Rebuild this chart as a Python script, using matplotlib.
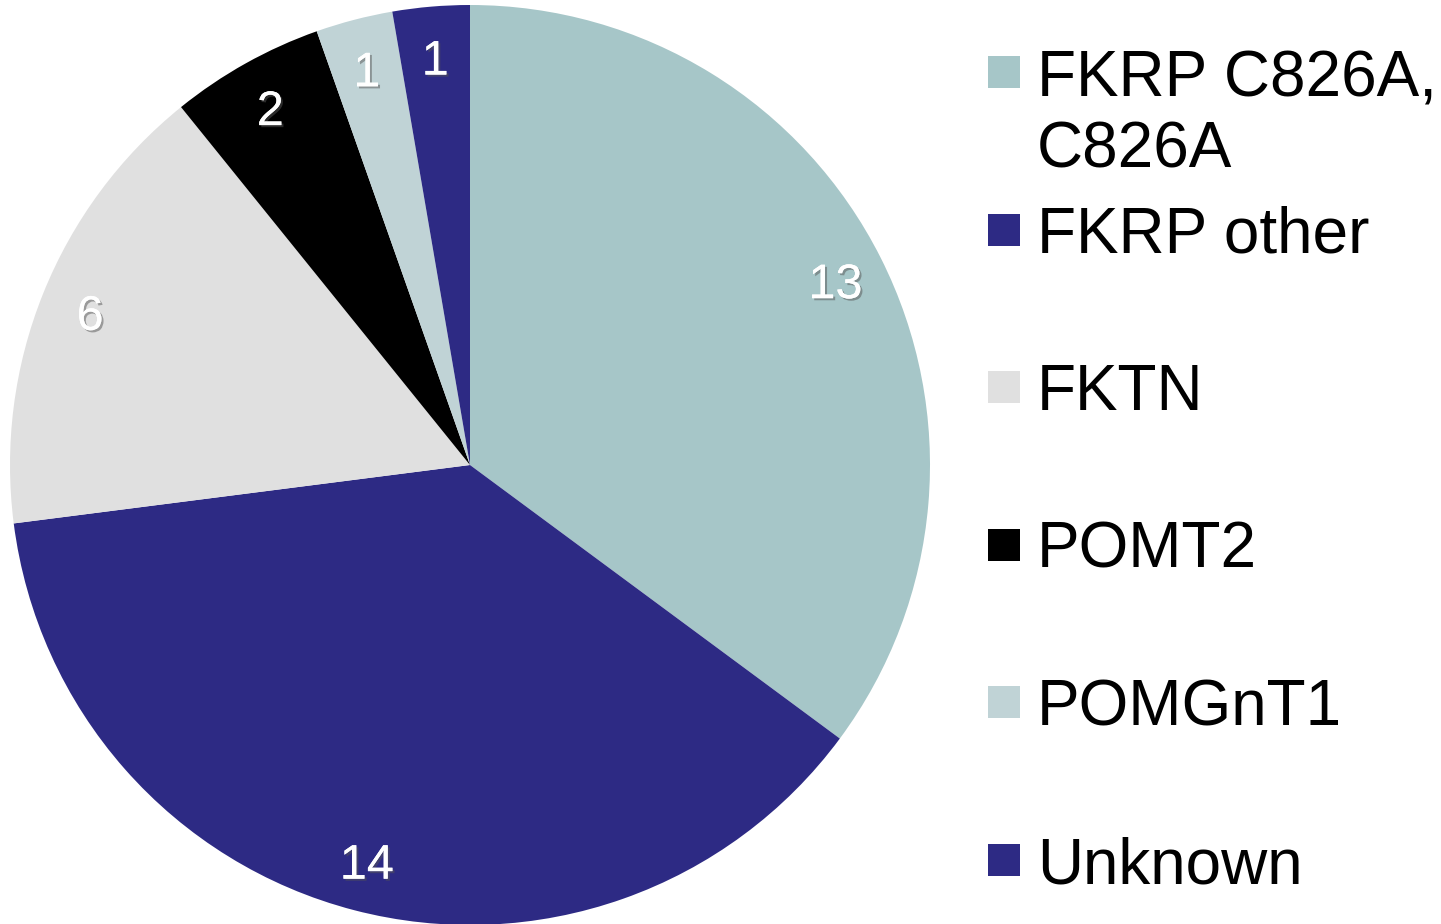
import matplotlib
matplotlib.use("Agg")
import matplotlib.pyplot as plt
import matplotlib.patheffects as pe
from matplotlib.patches import Rectangle

plt.rcParams["font.family"] = ["Liberation Sans", "DejaVu Sans"]

labels = ["FKRP C826A,\nC826A", "FKRP other", "FKTN", "POMT2", "POMGnT1", "Unknown"]
counts = [13, 14, 6, 2, 1, 1]
colors = ["#a6c6c8", "#2d2a84", "#e0e0e0", "#000000", "#c0d3d6", "#2d2a84"]

W, H = 1441, 924
fig = plt.figure(figsize=(W / 100, H / 100), dpi=100)
# pie centred at (470, 465) px, radius 460 px
cx, cy, r = 470, 465, 460
ax = fig.add_axes([(cx - r) / W, (H - cy - r) / H, 2 * r / W, 2 * r / H])
wedges, texts = ax.pie(counts, colors=colors, startangle=90, counterclock=False,
                       labels=[str(c) for c in counts], labeldistance=0.89,
                       radius=1.0)
shadow = [pe.withSimplePatchShadow(offset=(1.5, -1.5), shadow_rgbFace="#555555", alpha=0.5),
          pe.Normal()]
for t in texts:
    t.set_color("white")
    t.set_fontsize(35)
    t.set_ha("center"); t.set_va("center_baseline")
    t.set_path_effects(shadow)
ax.set_xlim(-1, 1); ax.set_ylim(-1, 1)
ax.set_aspect("equal")
ax.axis("off")

# legend drawn by hand, in figure pixels
y0, dy, line_h = 72, 157.6, 72
for i, (lab, col) in enumerate(zip(labels, colors)):
    yc = y0 + i * dy
    fig.add_artist(Rectangle(((988) / W, (H - yc - 16) / H), 32 / W, 32 / H,
                             transform=fig.transFigure, color=col, lw=0))
    nl = lab.count("\n")
    fig.text(1037 / W, (H - yc - 23 - nl * line_h) / H, lab, fontsize=46,
             va="baseline", ha="left", color="black", linespacing=1.22)

fig.savefig("out.png", dpi=100)
